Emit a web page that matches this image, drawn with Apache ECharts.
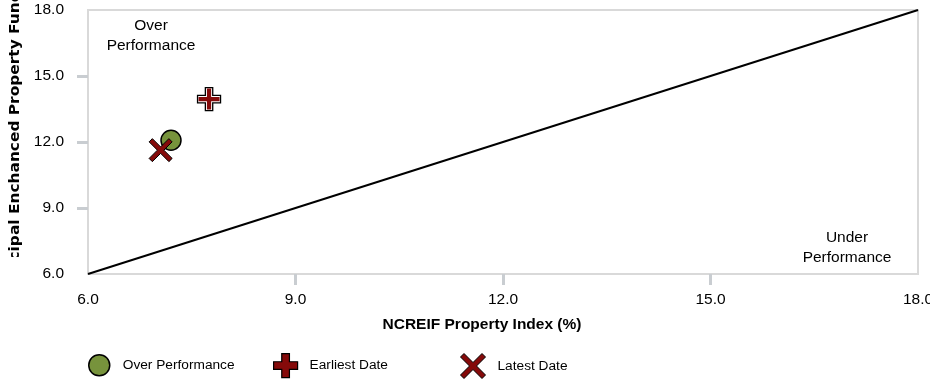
<!DOCTYPE html>
<html>
<head>
<meta charset="utf-8">
<script src="https://cdn.jsdelivr.net/npm/echarts@6/dist/echarts.min.js"></script>
<style>
html,body{margin:0;padding:0;background:#fff;}
#chart{width:930px;height:384px;}
</style>
</head>
<body>
<div id="chart"></div>
<script>
// ---- data ----
const xAxisTitle = 'NCREIF Property Index (%)';
const yAxisTitle = 'Principal Enchanced Property Fund (%)';
const seriesNames = ['Over Performance', 'Earliest Date', 'Latest Date'];
const overPerformance = [[7.2, 12.08]];
const earliestDate = [[7.75, 13.95]];
const latestDate = [[7.05, 11.63]];
const parityLine = [[6, 6], [18, 18]];
const axisMin = 6, axisMax = 18, axisStep = 3;
const innerTicks = [9, 12, 15];
const overLabel = 'Over\nPerformance';
const underLabel = 'Under\nPerformance';

const FONT = '"Liberation Sans", Arial, sans-serif';
const PLUS_OUT = 'path://M34,0 L66,0 L66,34 L100,34 L100,66 L66,66 L66,100 L34,100 L34,66 L0,66 L0,34 L34,34 Z';
const PLUS_IN = 'path://M40,0 L60,0 L60,40 L100,40 L100,60 L60,60 L60,100 L40,100 L40,60 L0,60 L0,40 L40,40 Z';
const XMARK = 'path://M0,14 L14,0 L50,36 L86,0 L100,14 L64,50 L100,86 L86,100 L50,64 L14,100 L0,86 L36,50 Z';
const RED = '#850a0a';
const GREEN = '#77933c';
const AXIS_GREY = '#d9d9d9';
const TICK_GREY = '#c9cdd1';

const chart = echarts.init(document.getElementById('chart'));

function axisCommon() {
  return {
    type: 'value', min: axisMin, max: axisMax, interval: axisStep,
    axisLine: { show: true, lineStyle: { color: AXIS_GREY, width: 2 } },
    axisTick: { show: true, customValues: innerTicks, length: 11, lineStyle: { color: TICK_GREY, width: 3 } },
    splitLine: { show: false },
    axisLabel: { color: '#000', fontFamily: FONT, fontSize: 15.5, formatter: v => v.toFixed(1) }
  };
}

const xAxis = axisCommon();
xAxis.axisLabel.margin = 18;
xAxis.name = xAxisTitle;
xAxis.nameLocation = 'middle';
xAxis.nameGap = 43;
xAxis.nameTextStyle = { color: '#000', fontFamily: FONT, fontSize: 15.5, fontWeight: 'bold', padding: [0, 42, 0, 0] };

const yAxis = axisCommon();
yAxis.axisLabel.margin = 24;

const legendText = { color: '#000', fontFamily: FONT, fontSize: 13.7 };

const option = {
  backgroundColor: '#fff',
  animation: false,
  grid: { left: 88, right: 12, top: 10, bottom: 110, containLabel: false, outerBoundsMode: 'none',
          show: true, borderColor: AXIS_GREY, borderWidth: 2, backgroundColor: 'transparent' },
  xAxis: xAxis,
  yAxis: yAxis,
  legend: [
    { data: [{ name: seriesNames[0], icon: 'circle', itemStyle: { color: GREEN, borderColor: '#000', borderWidth: 1.5 } }],
      left: 88, top: 354, padding: 0, itemWidth: 21, itemHeight: 21, textStyle: Object.assign({ padding: [0, 0, 0, 8] }, legendText) },
    { data: [{ name: seriesNames[1], icon: PLUS_OUT, itemStyle: { color: RED, borderColor: '#000', borderWidth: 1.2 } }],
      left: 273, top: 353, padding: 0, itemWidth: 24, itemHeight: 24, textStyle: Object.assign({ padding: [0, 0, 0, 7] }, legendText) },
    { data: [{ name: seriesNames[2], icon: XMARK, itemStyle: { color: RED, borderColor: '#000', borderWidth: 1 } }],
      left: 460, top: 353, padding: 0, itemWidth: 25, itemHeight: 25, textStyle: Object.assign({ padding: [0, 0, 0, 7] }, legendText) }
  ],
  series: [
    { name: 'parity', type: 'line', data: parityLine, symbol: 'none', silent: true,
      lineStyle: { color: '#000', width: 2 }, z: 2 },
    { name: seriesNames[0], type: 'scatter', data: overPerformance, symbol: 'circle', symbolSize: 20,
      itemStyle: { color: GREEN, borderColor: '#000', borderWidth: 1.5, opacity: 1 }, z: 3 },
    { name: seriesNames[1], type: 'scatter', data: earliestDate, symbol: PLUS_OUT, symbolSize: 23,
      itemStyle: { color: '#fff', borderColor: '#000', borderWidth: 1.3, opacity: 1 }, z: 4 },
    { name: seriesNames[1], type: 'scatter', data: earliestDate, symbol: PLUS_IN, symbolSize: 21,
      itemStyle: { color: RED, borderWidth: 0, opacity: 1 }, z: 5 },
    { name: seriesNames[2], type: 'scatter', data: latestDate, symbol: XMARK, symbolSize: 23,
      itemStyle: { color: RED, borderColor: '#000', borderWidth: 1, opacity: 1 }, z: 6 }
  ],
  graphic: [
    { type: 'text', x: 15, y: 126, rotation: Math.PI / 2, scaleX: 1.1, z: 10,
      style: { text: yAxisTitle, font: 'bold 14px "DejaVu Sans"', textAlign: 'center', textVerticalAlign: 'middle', fill: '#000' } },
    { type: 'rect', shape: { x: 0, y: 257, width: 30, height: 127 }, style: { fill: '#fff' }, z: 11 },
    { type: 'text', x: 151, y: 36, z: 10,
      style: { text: overLabel, font: '15.5px ' + FONT, textAlign: 'center', textVerticalAlign: 'middle', fill: '#000', lineHeight: 20 } },
    { type: 'text', x: 847, y: 248, z: 10,
      style: { text: underLabel, font: '15.5px ' + FONT, textAlign: 'center', textVerticalAlign: 'middle', fill: '#000', lineHeight: 20 } }
  ]
};
chart.setOption(option);
</script>
</body>
</html>
